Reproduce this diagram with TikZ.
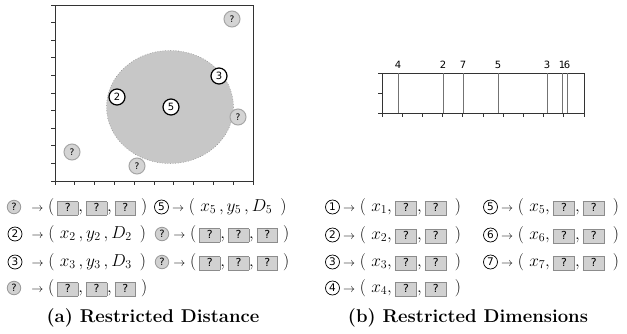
\documentclass[tikz,border=0pt]{standalone}
\usepackage{fontspec}
\newfontfamily\symfont{DejaVu Sans}
\usetikzlibrary{positioning}
\setlength{\fboxsep}{1pt}
\setlength{\fboxrule}{0.6pt}
% gray "?" box used in the tuples
\newcommand{\qbox}[1][18pt]{\fcolorbox{black!45}{black!18}{\makebox[#1]{\symfont\fontsize{11}{11}\selectfont\rule[-2.5pt]{0pt}{11pt}?}}}
\newcommand{\arr}{\mbox{\fontsize{12}{12}\selectfont$\rightarrow$}\;}

\begin{document}
\begin{tikzpicture}[x=1pt, y=-1pt,
  axis/.style={black!80, line width=0.9pt},
  tick/.style={black!80, line width=0.8pt},
  qmark/.style={circle, draw=black!35, fill=black!17, line width=1pt, inner sep=0pt, minimum size=16pt, font=\symfont\fontsize{9}{9}\selectfont},
  nmark/.style={circle, draw=black, fill=white, line width=1.2pt, inner sep=0pt, minimum size=16pt, font=\symfont\fontsize{10}{10}\selectfont},
  rowq/.style={circle, draw=black!40, fill=black!18, line width=0.8pt, inner sep=0pt, minimum size=13.5pt, font=\symfont\fontsize{10}{10}\selectfont},
  rowd/.style={circle, draw=black, line width=0.7pt, inner sep=0pt, minimum size=14pt, font=\symfont\fontsize{10.5}{10.5}\selectfont},
  tuple/.style={anchor=west, inner sep=1pt, font=\fontsize{17.5}{19}\selectfont},
  dimlab/.style={font=\symfont\fontsize{10}{10}\selectfont, inner sep=0pt},
  dimline/.style={black!55, line width=0.9pt},
  caption/.style={font=\bfseries\fontsize{18.5}{20}\selectfont}]
  \useasboundingbox (0,0) rectangle (627,333);

  % (a) restricted distance
  \fill[black!22] (170,107) ellipse (63.5 and 56.5);
  \draw[black!45, dotted, line width=0.6pt] (170,107) ellipse (63.5 and 56.5);
  \draw[axis] (55,5) rectangle (253,181);
  \foreach \i in {0,...,10} {
    \draw[tick] (51,5+17.6*\i) -- (55,5+17.6*\i);
    \draw[tick] (55+19.8*\i,181) -- (55+19.8*\i,185);
  }
  \node[qmark] (pa) at (232,19)  {?};
  \node[qmark] (pb) at (238,117) {?};
  \node[qmark] (pc) at (72,152)  {?};
  \node[qmark] (pd) at (137,166) {?};
  \node[nmark] (p2) at (117,97)  {2};
  \node[nmark] (p3) at (219,76)  {3};
  \node[nmark] (p5) at (171,107) {5};

  \node[rowq] (a1) at (14,207) {?};
  \node[tuple, xshift=9pt] (ta1) at (a1.east) {$\arr(\,\qbox,\qbox,\qbox\ )$};
  \node[rowd] (a2) at (15,234) {2};
  \node[tuple, xshift=8pt] (ta2) at (a2.east) {$\arr(\ x_2\,, y_2\,, D_2\ \,)$};
  \node[rowd] (a3) at (15,262) {3};
  \node[tuple, xshift=8pt] (ta3) at (a3.east) {$\arr(\ x_3\,, y_3\,, D_3\ \,)$};
  \node[rowq] (a4) at (14,288) {?};
  \node[tuple, xshift=9pt] (ta4) at (a4.east) {$\arr(\,\qbox,\qbox,\qbox\ )$};
  \node[rowd] (a5) at (161.5,207) {5};
  \node[tuple, xshift=2pt] (ta5) at (a5.east) {$\arr(\ x_5\,, y_5\,, D_5\ \,)$};
  \node[rowq] (a6) at (162,234) {?};
  \node[tuple, xshift=3pt] (ta6) at (a6.east) {$\arr(\,\qbox,\qbox,\qbox\ )$};
  \node[rowq] (a7) at (162,262) {?};
  \node[tuple, xshift=3pt] (ta7) at (a7.east) {$\arr(\,\qbox,\qbox,\qbox\ )$};
  \node[caption] (capa) at (153,318) {(a) Restricted Distance};

  % (b) restricted dimensions
  \draw[axis] (382,73) rectangle (584,113);
  \foreach \y in {73,93,113}
    \draw[tick] (378,\y) -- (382,\y);
  \foreach \i in {0,...,10}
    \draw[tick] (382+20.2*\i,113) -- (382+20.2*\i,117);
  \foreach \d/\x in {4/398, 2/443, 7/463, 5/498, 3/547, 1/562, 6/567} {
    \draw[dimline] (\x,73) -- (\x,113);
    \node[dimlab] (d\d) at (\x,65) {\d};
  }

  \foreach \k/\x/\y in {1/332.5/207, 2/332.5/235, 3/332.5/262, 4/332.5/288,
                        5/490.5/207, 6/490.5/235, 7/490.5/262} {
    \node[rowd] (b\k) at (\x,\y) {\k};
    \node[tuple, xshift=2pt] (tb\k) at (b\k.east) {$\arr(\ x_{\k},\qbox[19pt],\qbox[19pt]\ \,)$};
  }
  \node[caption] (capb) at (468,318) {(b) Restricted Dimensions};
\end{tikzpicture}
\end{document}
